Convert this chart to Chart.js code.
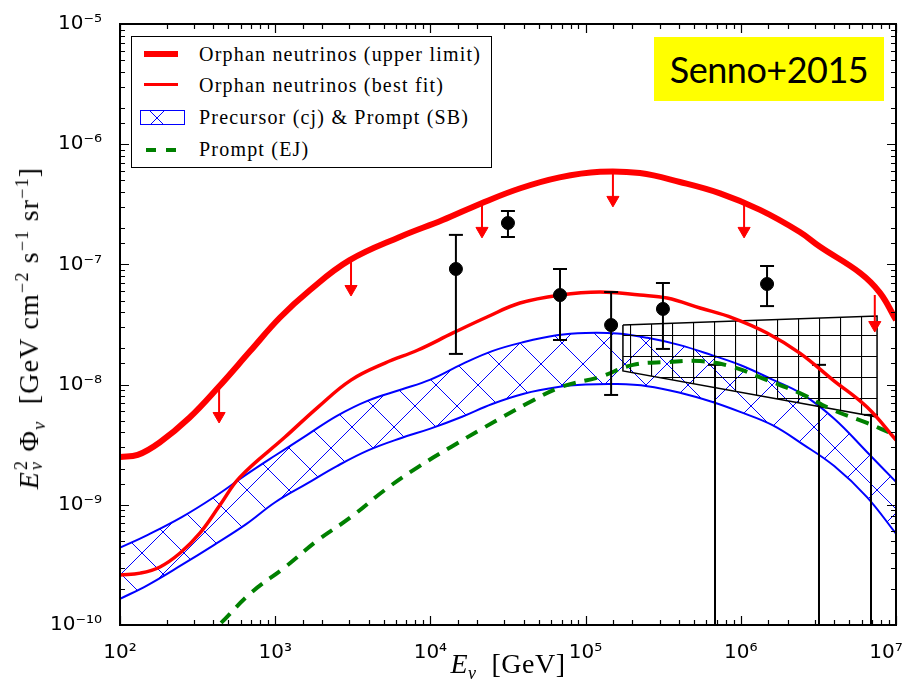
<!DOCTYPE html>
<html>
<head>
<meta charset="utf-8">
<script src="https://cdn.jsdelivr.net/npm/chart.js@4.4.0/dist/chart.umd.min.js"></script>
<style>
  body { margin: 0; background: #fff; }
  #wrap { position: relative; width: 909px; height: 689px; overflow: hidden; }
  #chart { position: absolute; left: 0; top: 0; }
  .serif { position: absolute; font-family: "Liberation Serif", serif; color: #000; white-space: nowrap; }
  .stack { display: inline-flex; flex-direction: column; font-size: 18px; line-height: 15px; vertical-align: 11px; margin-left: 1px; }
  .small { font-size: 18px; }
  #legend { position: absolute; left: 131px; top: 36px; width: 359px; height: 130px; border: 1.5px solid #000; background: #fff; }
  .lg-text { position: absolute; left: 67px; font-size: 20px; letter-spacing: 1.2px; line-height: 20px; }
  .lg-line { position: absolute; left: 12px; width: 34px; background: #ff0000; }
  .lg-dash { position: absolute; width: 10px; height: 4px; background: #008000; }
  #tag { position: absolute; left: 654px; top: 37px; width: 230px; height: 64px; background: #ffff00;
         font-family: Lato, "Open Sans", sans-serif; font-size: 36px; letter-spacing: -0.5px; line-height: 64px; text-align: center; color: #000; }
</style>
</head>
<body>
<div id="wrap">
  <canvas id="chart" width="909" height="689"></canvas>

  <div id="legend">
    <div class="lg-line" style="top:14px;height:6px"></div>
    <div class="lg-text" style="top:7px">Orphan neutrinos (upper limit)</div>
    <div class="lg-line" style="top:46px;height:3px"></div>
    <div class="lg-text" style="top:38px">Orphan neutrinos (best fit)</div>
    <canvas id="lgHatch" width="43" height="13" style="position:absolute;left:8px;top:73px;border:1.5px solid #0000ff;"></canvas>
    <div class="lg-text" style="top:70px">Precursor (cj) &amp; Prompt (SB)</div>
    <div class="lg-dash" style="left:14px;top:111px"></div>
    <div class="lg-dash" style="left:34px;top:111px"></div>
    <div class="lg-text" style="top:102px">Prompt (EJ)</div>
  </div>

  <div id="tag">Senno+2015</div>

  <div class="serif" style="left:31px;top:328px;font-size:28px;letter-spacing:1.2px;transform:translate(-50%,-50%) rotate(-90deg);">
    <i>E</i><span class="stack"><span>2</span><i>ν</i></span> Φ<sub class="small"><i>ν</i></sub>&nbsp; [GeV cm<sup class="small">−2</sup> s<sup class="small">−1</sup> sr<sup class="small">−1</sup>]
  </div>
  <div class="serif" style="left:508px;top:666px;font-size:28px;letter-spacing:0.5px;transform:translate(-50%,-50%);">
    <i>E</i><sub class="small"><i>ν</i></sub>&nbsp; [GeV]
  </div>
</div>

<script>
// energies in GeV, fluxes in GeV cm^-2 s^-1 sr^-1
const upperLimitE = [100, 130, 180, 280, 430, 690, 1070, 1670, 3000, 6400, 12000, 21000, 38000, 68000, 124000, 224000, 405000, 735000, 1330000, 2400000, 3240000, 5860000, 7890000, 10000000];
const upperLimitFlux = [2.5e-9, 2.6e-9, 3.3e-9, 5.3e-9, 9.5e-9, 1.9e-8, 3.6e-8, 6.1e-8, 1.08e-7, 1.7e-7, 2.34e-7, 3.2e-7, 4.3e-7, 5.3e-7, 5.9e-7, 5.75e-7, 4.85e-7, 3.9e-7, 2.84e-7, 1.86e-7, 1.4e-7, 8.5e-8, 5.8e-8, 3.45e-8];

const bestFitE = [100, 135, 181, 244, 327, 441, 593, 1157, 1888, 3076, 5093, 8318, 13990, 23170, 37760, 68400, 124000, 224000, 335000, 546000, 891000, 1476000, 2400000, 3930000, 6500000, 10000000];
const bestFitFlux = [2.6e-10, 2.7e-10, 3.04e-10, 3.97e-10, 5.8e-10, 9.95e-10, 1.7e-9, 3.66e-9, 6.5e-9, 1.09e-8, 1.51e-8, 1.94e-8, 2.69e-8, 3.65e-8, 4.77e-8, 5.56e-8, 5.89e-8, 5.56e-8, 5.25e-8, 4.34e-8, 3.58e-8, 2.69e-8, 1.83e-8, 1.09e-8, 6.5e-9, 3.46e-9];

const bandE = [100, 150, 250, 400, 650, 1000, 1600, 2500, 4000, 6500, 10000, 16000, 25000, 40000, 65000, 100000, 160000, 250000, 400000, 650000, 1000000, 1600000, 2500000, 4000000, 6500000, 10000000];
const bandUpper = [4.4e-10, 5.6e-10, 7.9e-10, 1.15e-9, 1.78e-9, 2.57e-9, 3.8e-9, 5.5e-9, 7.4e-9, 9.1e-9, 1.1e-8, 1.48e-8, 1.9e-8, 2.26e-8, 2.57e-8, 2.69e-8, 2.66e-8, 2.45e-8, 2.14e-8, 1.76e-8, 1.45e-8, 1.1e-8, 8.3e-9, 5.2e-9, 2.75e-9, 1.55e-9];
const bandLower = [1.65e-10, 2.14e-10, 3.16e-10, 4.6e-10, 6.9e-10, 1.05e-9, 1.5e-9, 2.1e-9, 2.85e-9, 3.6e-9, 4.3e-9, 5.4e-9, 6.9e-9, 8.4e-9, 9.5e-9, 1.0e-8, 1.01e-8, 9.7e-9, 8.6e-9, 7.2e-9, 5.9e-9, 4.6e-9, 3.2e-9, 2.1e-9, 1.16e-9, 5.75e-10];

const promptEJE = [448, 698, 1157, 1888, 3076, 5093, 8318, 13580, 22500, 42560, 69500, 124000, 202000, 335000, 546000, 891000, 1476000, 2400000, 3930000, 6500000, 9850000];
const promptEJFlux = [1.04e-10, 1.85e-10, 3.03e-10, 5.09e-10, 7.9e-10, 1.33e-9, 2.06e-9, 3.03e-9, 4.44e-9, 7.03e-9, 9.55e-9, 1.16e-8, 1.46e-8, 1.54e-8, 1.57e-8, 1.40e-8, 1.09e-8, 8.5e-9, 6.15e-9, 4.8e-9, 3.81e-9];

// arrows on the upper limit curve
const arrowE = [435, 3080, 21500, 150000, 1050000, 7300000];
const arrowTop = [9.9e-9, 1.09e-7, 3.24e-7, 5.75e-7, 3.43e-7, 5.56e-8];
const arrowEnd = [5.48e-9, 6.24e-8, 1.9e-7, 3.44e-7, 1.9e-7, 3.13e-8];

// measured points with errors
const pointE = [14600, 31600, 68400, 146000, 315000, 1476000];
const pointFlux = [9.16e-8, 2.21e-7, 5.56e-8, 3.13e-8, 4.26e-8, 6.87e-8];
const pointLow = [1.8e-8, 1.69e-7, 2.35e-8, 8.2e-9, 1.98e-8, 4.5e-8];
const pointHigh = [1.76e-7, 2.78e-7, 9.16e-8, 5.89e-8, 7.0e-8, 9.7e-8];

// bars with no lower end
const limitE = [682000, 3190000, 6900000];
const limitFlux = [1.46e-8, 1.46e-8, 5.6e-9];

// power law box
const boxE = [174000, 7550000];
const boxTop = [3.13e-8, 3.72e-8];
const boxBottom = [1.3e-8, 5.37e-9];

const xMin = 1e2, xMax = 1e7, yMin = 1e-10, yMax = 1e-5;

function xy(xs, ys) {
    return xs.map((x, i) => ({ x: x, y: ys[i] }));
}

function xPattern(ctx, color) {
    const c = document.createElement("canvas");
    c.width = 42; c.height = 42;
    const g = c.getContext("2d");
    g.strokeStyle = color;
    g.lineWidth = 1;
    g.beginPath();
    g.moveTo(-2, -2); g.lineTo(44, 44);
    g.moveTo(44, -2); g.lineTo(-2, 44);
    g.stroke();
    const p = ctx.createPattern(c, "repeat");
    p.setTransform(new DOMMatrix([1, 0, 0, 1, 37, 28]));
    return p;
}

function plusPattern(ctx) {
    const c = document.createElement("canvas");
    c.width = 21; c.height = 21;
    const g = c.getContext("2d");
    g.strokeStyle = "#000";
    g.lineWidth = 1.2;
    g.beginPath();
    g.moveTo(0.5, 0); g.lineTo(0.5, 21);
    g.moveTo(0, 20.5); g.lineTo(21, 20.5);
    g.stroke();
    return ctx.createPattern(c, "repeat");
}

const canvas = document.getElementById("chart");
const ctx = canvas.getContext("2d");

// legend hatch sample
const lg = document.getElementById("lgHatch").getContext("2d");
lg.fillStyle = xPattern(lg, "#0000ff");
lg.fillRect(0, 0, 43, 13);

const datasets = [];

// points with error bars
pointE.forEach((e, i) => {
    datasets.push({
        data: [{ x: e, y: pointLow[i] }, { x: e, y: pointHigh[i] }],
        showLine: true, borderColor: "#000", borderWidth: 2,
        pointStyle: "line", pointRadius: 7, pointBorderWidth: 2, pointBorderColor: "#000",
        order: 1
    });
});
datasets.push({
    data: xy(pointE, pointFlux),
    pointRadius: 6.5, pointBackgroundColor: "#000", pointBorderColor: "#000", order: 0
});

limitE.forEach((e, i) => {
    datasets.push({
        data: [{ x: e, y: yMin }, { x: e, y: limitFlux[i] }],
        showLine: true, borderColor: "#000", borderWidth: 2,
        pointStyle: "line", pointRadius: [0, 7], pointBorderWidth: 2, pointBorderColor: "#000",
        order: 6
    });
});

arrowE.forEach((e, i) => {
    datasets.push({
        data: [{ x: e, y: arrowTop[i] }, { x: e, y: arrowEnd[i] }],
        showLine: true, borderColor: "#ff0000", borderWidth: 2,
        pointStyle: "triangle", pointRotation: 180, pointRadius: [0, 7],
        pointBackgroundColor: "#ff0000", pointBorderColor: "#ff0000", pointBorderWidth: 1,
        order: 2
    });
});

const curve = { showLine: true, pointRadius: 0, tension: 0.4 };

datasets.push(Object.assign({
    label: "Orphan neutrinos (upper limit)",
    data: xy(upperLimitE, upperLimitFlux),
    borderColor: "#ff0000", borderWidth: 6, order: 3
}, curve));
datasets.push(Object.assign({
    label: "Orphan neutrinos (best fit)",
    data: xy(bestFitE, bestFitFlux),
    borderColor: "#ff0000", borderWidth: 3.5, order: 4
}, curve));
datasets.push(Object.assign({
    label: "Prompt (EJ)",
    data: xy(promptEJE, promptEJFlux),
    borderColor: "#008000", borderWidth: 4, borderDash: [13, 9], order: 5
}, curve));
datasets.push({
    data: [
        { x: boxE[0], y: boxTop[0] }, { x: boxE[1], y: boxTop[1] },
        { x: boxE[1], y: boxBottom[1] }, { x: boxE[0], y: boxBottom[0] },
        { x: boxE[0], y: boxTop[0] }
    ],
    showLine: true, fill: "shape", backgroundColor: plusPattern(ctx),
    borderColor: "#000", borderWidth: 1.5, pointRadius: 0, order: 7
});
const bandIndex = datasets.length;
datasets.push(Object.assign({
    label: "Precursor (cj) & Prompt (SB)",
    data: xy(bandE, bandUpper),
    borderColor: "#0000ff", borderWidth: 2,
    fill: bandIndex + 1, backgroundColor: xPattern(ctx, "#0000ff"), order: 8
}, curve));
datasets.push(Object.assign({
    data: xy(bandE, bandLower),
    borderColor: "#0000ff", borderWidth: 2, order: 9
}, curve));

const supDigits = { "-": "⁻", "0": "⁰", "1": "¹", "2": "²", "3": "³", "4": "⁴", "5": "⁵", "6": "⁶", "7": "⁷", "8": "⁸", "9": "⁹" };
function isDecade(v) {
    const e = Math.log10(v);
    return Math.abs(e - Math.round(e)) < 1e-6;
}
function decadeLabel(v) {
    if (!isDecade(v)) return "";
    const e = Math.round(Math.log10(v));
    return "10" + String(e).split("").map(c => supDigits[c]).join("");
}

// ticks pointing inwards on all four sides, plus the frame
const frameTicks = {
    id: "frameTicks",
    afterDraw(chart) {
        const c = chart.ctx;
        const a = chart.chartArea;
        const sx = chart.scales.x, sy = chart.scales.y;
        c.save();
        c.strokeStyle = "#000";
        c.lineWidth = 1.2;
        c.beginPath();
        sx.ticks.forEach(t => {
            const p = Math.round(sx.getPixelForValue(t.value)) + 0.5;
            const len = isDecade(t.value) ? 9 : 5;
            c.moveTo(p, a.bottom); c.lineTo(p, a.bottom - len);
            c.moveTo(p, a.top); c.lineTo(p, a.top + len);
        });
        sy.ticks.forEach(t => {
            const p = Math.round(sy.getPixelForValue(t.value)) + 0.5;
            const len = isDecade(t.value) ? 9 : 5;
            c.moveTo(a.left, p); c.lineTo(a.left + len, p);
            c.moveTo(a.right, p); c.lineTo(a.right - len, p);
        });
        c.stroke();
        c.lineWidth = 2;
        c.strokeRect(a.left, a.top, a.right - a.left, a.bottom - a.top);
        c.restore();
    }
};

new Chart(ctx, {
    type: "scatter",
    data: { datasets: datasets },
    options: {
        responsive: false,
        devicePixelRatio: 1,
        animation: false,
        layout: { padding: { top: 24, right: 13, left: 0, bottom: 0 } },
        plugins: { legend: { display: false }, tooltip: { enabled: false } },
        scales: {
            x: {
                type: "logarithmic", min: xMin, max: xMax,
                grid: { display: false }, border: { display: false },
                ticks: {
                    autoSkip: false, maxRotation: 0, padding: 8, color: "#000",
                    font: { family: "DejaVu Sans", size: 20 },
                    // the last label is pushed left so it stays inside the page
                    callback: v => (v >= xMax ? decadeLabel(v) + "\u2002\u2002" : decadeLabel(v))
                },
                afterFit: s => { s.height = 64; s.paddingLeft = 0; s.paddingRight = 0; }
            },
            y: {
                type: "logarithmic", min: yMin, max: yMax,
                grid: { display: false }, border: { display: false },
                ticks: {
                    autoSkip: false, padding: 10, color: "#000",
                    font: { family: "DejaVu Sans", size: 20 },
                    callback: v => decadeLabel(v)
                },
                afterFit: s => { s.width = 120; s.paddingTop = 0; s.paddingBottom = 0; }
            }
        }
    },
    plugins: [frameTicks]
});
</script>
</body>
</html>
